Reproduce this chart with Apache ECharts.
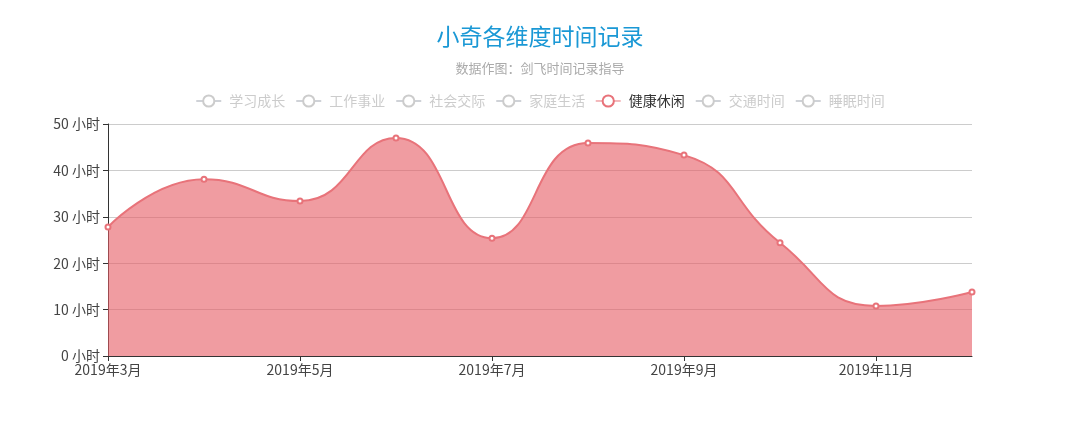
<!DOCTYPE html>
<html><head><meta charset="utf-8">
<script src="https://cdn.jsdelivr.net/npm/echarts@6/dist/echarts.min.js"></script>
<style>html,body{margin:0;padding:0;background:#fff}#c{width:1080px;height:424px}</style>
</head><body><div id="c"></div>
<script>
const months = ['2019年3月','2019年4月','2019年5月','2019年6月','2019年7月','2019年8月','2019年9月','2019年10月','2019年11月','2019年12月'];
const seriesNames = ['学习成长','工作事业','社会交际','家庭生活','健康休闲','交通时间','睡眠时间'];
const health = [27.8, 38.1, 33.4, 47.0, 25.4, 45.9, 43.3, 24.4, 10.8, 13.8];
const font = '"Noto Sans CJK SC", "Microsoft YaHei", sans-serif';
const chart = echarts.init(document.getElementById('c'));
const selected = {};
seriesNames.forEach(n => selected[n] = (n === '健康休闲'));
chart.setOption({
  animation: false,
  title: {
    text: '小奇各维度时间记录', subtext: '数据作图：剑飞时间记录指导',
    left: 'center', top: 20, itemGap: 14,
    textStyle: {color: '#1a98d5', fontSize: 23, fontWeight: 'normal', fontFamily: font},
    subtextStyle: {color: '#aaa', fontSize: 13, fontFamily: font}
  },
  legend: {
    data: seriesNames, selected: selected, top: 89, left: 'center',
    itemWidth: 25, itemHeight: 14, itemGap: 10,
    textStyle: {color: '#333', fontSize: 14, fontFamily: font, padding: [0, 0, 0, 3]},
    inactiveColor: '#ccc',
    lineStyle: {width: 1},
    itemStyle: {borderWidth: 1}
  },
  grid: {left: 108, right: 108, top: 124, bottom: 68},
  xAxis: {
    type: 'category', data: months, boundaryGap: false,
    axisLine: {lineStyle: {color: '#333'}},
    axisTick: {interval: 1, lineStyle: {color: '#333'}},
    axisLabel: {interval: 1, color: '#444', fontSize: 14, fontFamily: font, margin: 7}
  },
  yAxis: {
    type: 'value', min: 0, max: 50, interval: 10,
    axisLine: {show: true, lineStyle: {color: '#333'}},
    axisTick: {show: true, lineStyle: {color: '#333'}},
    axisLabel: {formatter: '{value} 小时', color: '#444', fontSize: 14, fontFamily: font},
    splitLine: {lineStyle: {color: '#ccc'}}
  },
  color: ['#5470c6','#91cc75','#fac858','#73c0de','#e8737a','#fc8452','#9a60b4'],
  series: seriesNames.map(n => ({
    name: n, type: 'line', smooth: true,
    symbol: 'emptyCircle', symbolSize: 5,
    data: n === '健康休闲' ? health : [],
    lineStyle: {width: 2},
    areaStyle: n === '健康休闲' ? {color: '#e65a62', opacity: 0.6} : undefined
  }))
});
</script></body></html>
